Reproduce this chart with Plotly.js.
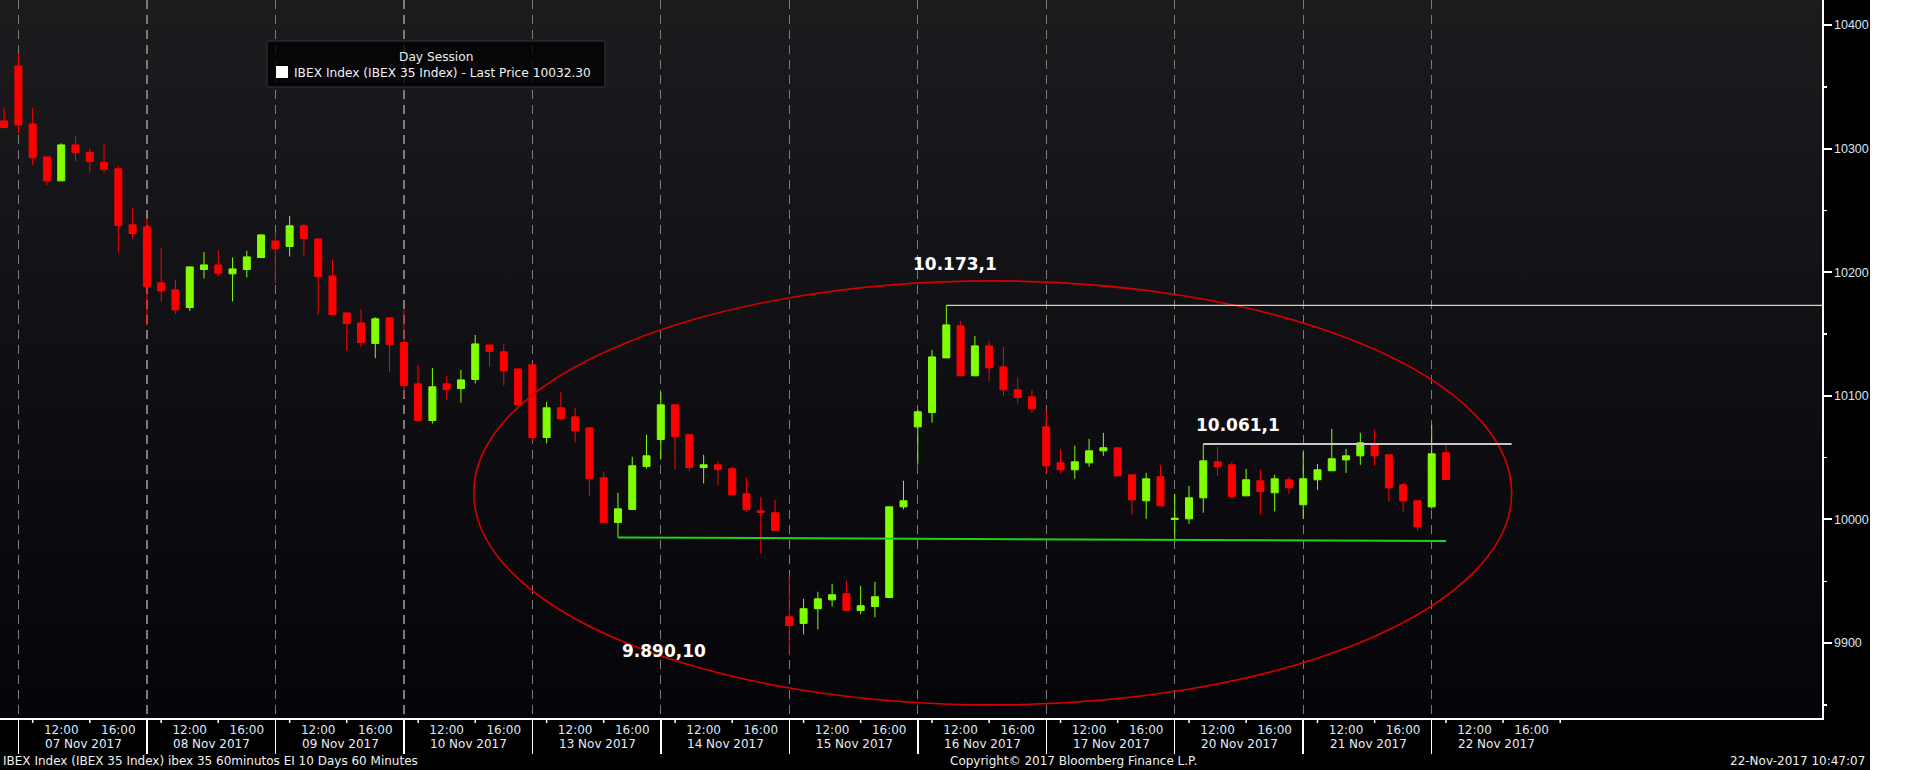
<!DOCTYPE html>
<html><head><meta charset="utf-8">
<script src="https://cdn.plot.ly/plotly-3.0.1.min.js"></script>
<style>
html,body{margin:0;padding:0;background:#ffffff;overflow:hidden;}
#wrap{position:absolute;left:0;top:0;width:1870px;height:770px;background:#000;}
#bg{position:absolute;left:0;top:0;width:1822px;height:718px;background:linear-gradient(to bottom,#1c1c1f 0%,#111115 45%,#050509 100%);}
#chart{position:absolute;left:0;top:0;width:1870px;height:770px;}
</style></head><body>
<div id="wrap"><div id="bg"></div><div id="chart"></div></div>
<script>
// ---- data (60-minute bars, 9 bars per session 09:00..17:00; first bar = 06 Nov 17:00) ----
const sessionDays = ['07 Nov 2017','08 Nov 2017','09 Nov 2017','10 Nov 2017','13 Nov 2017','14 Nov 2017',
                     '15 Nov 2017','16 Nov 2017','17 Nov 2017','20 Nov 2017','21 Nov 2017','22 Nov 2017'];
const timeLabels = ['12:00','16:00'];
const openP = [10322.4,
 10366.8,10319.9,10293.3,10273.9,10303.0,10297.0,10288.9,10283.6,10238.3,
 10236.7,10191.4,10185.7,10171.4,10202.2,10205.9,10198.7,10202.2,10211.9,
 10225.3,10220.8,10237.5,10226.9,10197.0,10167.1,10159.0,10142.3,10163.1,
 10143.1,10109.7,10080.0,10109.7,10105.9,10113.2,10141.2,10135.6,10121.8,
 10125.1,10066.3,10090.3,10083.0,10074.1,10033.7,9997.6,10008.1,10042.9,
 10064.7,10092.7,10068.5,10042.0,10044.2,10041.0,10020.8,10007.0,10005.4,
 9921.3,9915.9,9927.8,9935.0,9939.9,9926.4,9929.6,9936.9,10010.2,
 10074.9,10086.5,10130.7,10156.6,10116.2,10140.4,10123.4,10104.9,10099.2,
 10074.9,10045.8,10040.2,10045.8,10055.5,10058.0,10036.1,10015.1,10034.5,
 10000.0,10000.5,10017.5,10046.6,10044.2,10019.1,10031.3,10021.6,10032.1,
 10011.9,10032.1,10039.4,10048.2,10051.5,10061.5,10052.3,10028.0,10015.1,
 10010.2,10053.9];
const highP = [10332.6,
 10377.1,10332.6,10293.3,10304.3,10310.2,10300.3,10303.8,10286.0,10251.8,
 10243.7,10219.7,10193.8,10204.3,10216.4,10218.1,10211.9,10217.3,10230.2,
 10232.3,10245.6,10239.1,10226.9,10210.0,10167.1,10170.1,10163.6,10163.1,
 10169.5,10125.1,10122.6,10116.2,10121.0,10149.3,10141.2,10142.0,10121.8,
 10125.1,10095.1,10103.2,10090.3,10074.1,10038.5,10021.6,10050.7,10068.5,
 10103.2,10092.7,10069.3,10052.3,10047.4,10042.6,10033.7,10018.3,10015.9,
 9954.4,9935.8,9941.5,9948.0,9950.4,9946.4,9949.6,10010.2,10031.3,
 10088.7,10137.2,10173.1,10160.6,10148.5,10144.5,10139.6,10114.6,10104.9,
 10088.7,10057.1,10059.6,10065.2,10070.1,10058.0,10036.1,10037.7,10044.2,
 10020.8,10027.2,10061.1,10058.8,10046.6,10041.0,10040.2,10036.1,10034.5,
 10054.7,10045.0,10073.3,10057.1,10070.1,10072.5,10052.3,10029.6,10015.1,
 10076.5,10061.2];
const lowP = [10316.5,
 10312.4,10286.8,10270.6,10273.9,10290.0,10280.6,10280.6,10215.9,10227.2,
 10156.6,10176.3,10166.3,10168.7,10194.9,10196.5,10176.3,10195.7,10211.9,
 10190.8,10212.7,10213.5,10165.8,10165.0,10136.7,10139.4,10130.5,10119.1,
 10098.9,10079.2,10077.6,10097.0,10094.6,10110.0,10123.7,10108.1,10092.7,
 10063.1,10061.5,10080.0,10062.3,10019.4,9997.6,9985.5,10008.1,10041.2,
 10048.5,10040.4,10038.8,10029.1,10027.5,10020.2,10005.7,9972.5,9991.1,
 9890.1,9907.0,9911.0,9929.6,9926.4,9923.2,9920.8,9936.9,10008.1,
 10044.5,10078.4,10130.7,10116.2,10116.2,10112.1,10100.0,10093.8,10086.3,
 10037.2,10037.2,10032.9,10042.6,10051.5,10035.3,10003.8,10000.5,10011.0,
 9983.0,9996.5,10005.4,10035.3,10017.5,10019.1,10003.8,10006.5,10020.8,
 10000.5,10024.0,10039.4,10037.7,10044.2,10043.4,10014.3,10006.2,9990.8,
 10008.6,10032.3];
const closeP = [10317.0,
 10319.1,10292.7,10273.9,10303.0,10296.8,10289.5,10283.3,10237.7,10231.3,
 10188.4,10184.9,10169.5,10204.3,10205.9,10199.2,10202.7,10212.4,10230.2,
 10218.9,10237.5,10227.2,10196.5,10165.8,10158.5,10143.1,10162.3,10141.5,
 10108.4,10080.0,10107.3,10105.1,10112.9,10142.0,10135.8,10120.5,10092.7,
 10066.3,10090.3,10081.4,10071.7,10033.2,9997.6,10008.6,10043.4,10051.5,
 10092.7,10067.1,10042.0,10044.2,10040.4,10020.2,10008.1,10005.7,9991.1,
 9914.3,9927.8,9935.8,9939.1,9926.4,9930.2,9937.5,10010.2,10015.1,
 10087.1,10131.5,10157.4,10116.2,10140.4,10122.6,10104.9,10098.7,10089.5,
 10043.4,10040.2,10046.6,10055.5,10058.0,10035.3,10015.9,10032.9,10011.0,
 10001.0,10017.5,10047.4,10042.6,10018.6,10032.1,10022.6,10032.9,10025.6,
 10032.9,10040.2,10049.1,10051.5,10062.0,10051.5,10025.6,10015.1,9994.1,
 10053.1,10032.3];
// annotated levels (bar indexes refer to positions in the arrays above)
const levelHigh = 10173.1, levelHighBar = 66;
const levelMid = 10061.1, levelMidBar = 84;
const levelLow = 9890.1;
const supportStart = 9985.5, supportEnd = 9982.5, supportStartBar = 43, supportEndBar = 101;

// ---- layout helpers ----
const barsPerSession = 9, firstSlot = -1;
const slots = openP.map((_, i) => i + firstSlot);
const W = 1822, H = 718;
const px = x => x / W, py = y => 1 - y / H;
const xMin = -1.289, xMax = 126.34, yMin = 9839.4, yMax = 10420.2;

const tickvals = [], ticktext = [], dayStarts = [], smallTicks = [];
sessionDays.forEach((d, i) => {
  const s = i * barsPerSession;
  dayStarts.push(s);
  tickvals.push(s + 3, s + 7); ticktext.push(timeLabels[0], timeLabels[1]);
  smallTicks.push(s + 1, s + 5);
});
smallTicks.push(sessionDays.length * barsPerSession);

const FONT = "'DejaVu Sans', 'Liberation Sans', sans-serif";
const tickFont = {family: FONT, size: 12, color: '#dde8f7'};
const yTickFont = {family: "'Liberation Sans', 'DejaVu Sans', sans-serif", size: 12.5, color: '#d6e4f6'};

const shapes = [];
smallTicks.forEach(s => shapes.push({type:'line', xref:'x', yref:'paper', ysizemode:'pixel', yanchor:0,
  x0:s, x1:s, y0:-1, y1:-5, line:{color:'#ffffff', width:1.5}}));
// ellipse
shapes.push({type:'circle', xref:'x', yref:'y', x0:31.9, x1:104.6, y0:9850, y1:10193,
  line:{color:'#d40000', width:1.6}});
// resistance line
shapes.push({type:'line', xref:'x', yref:'y', x0:slots[levelHighBar], x1:xMax, y0:levelHigh, y1:levelHigh,
  line:{color:'#d6d6ad', width:1.3}});
// 10061 line
shapes.push({type:'line', xref:'x', yref:'y', x0:slots[levelMidBar], x1:104.6, y0:levelMid, y1:levelMid,
  line:{color:'#c8c8c8', width:2}});
// support line
shapes.push({type:'line', xref:'x', yref:'y', x0:slots[supportStartBar], x1:slots[supportEndBar], y0:supportStart, y1:supportEnd,
  line:{color:'#1fd21f', width:2}});
// legend box
shapes.push({type:'rect', xref:'paper', yref:'paper', x0:px(267), x1:px(605), y0:py(87), y1:py(41),
  fillcolor:'rgba(2,2,4,0.82)', line:{color:'#353539', width:1}});
shapes.push({type:'rect', xref:'paper', yref:'paper', x0:px(276), x1:px(288), y0:py(78), y1:py(66),
  fillcolor:'#ffffff', line:{width:0}});

const fmt = v => { const s = v.toFixed(1).split('.'); return s[0].replace(/\B(?=(\d{3})+(?!\d))/g,'.') + ',' + s[1]; };
const bold = {family:"'DejaVu Sans', sans-serif", size:17, color:'#ffffff', weight:'bold'};
const smallFont = {family:FONT, size:12, color:'#f0f0f0'};
const annotations = [
  {xref:'paper', yref:'paper', x:px(955), y:py(264), text:fmt(levelHigh), showarrow:false, font:bold, xanchor:'center', yanchor:'middle'},
  {xref:'paper', yref:'paper', x:px(1238), y:py(425), text:fmt(levelMid), showarrow:false, font:bold, xanchor:'center', yanchor:'middle'},
  {xref:'paper', yref:'paper', x:px(664), y:py(651), text:fmt(levelLow).replace(/,(\d)$/, ',$10'), showarrow:false, font:bold, xanchor:'center', yanchor:'middle'},
  {xref:'paper', yref:'paper', x:px(436), y:py(57), text:'Day Session', showarrow:false,
   font:{family:FONT, size:12.2, color:'#ececec'}, xanchor:'center', yanchor:'middle'},
  {xref:'paper', yref:'paper', x:px(292), y:py(72.5), text:'IBEX Index (IBEX 35 Index) - Last Price ' + closeP[closeP.length-1].toFixed(2), showarrow:false,
   font:{family:FONT, size:12.2, color:'#f2f2f2'}, xanchor:'left', yanchor:'middle'},
  {xref:'paper', yref:'paper', x:px(1), y:py(761), text:'IBEX Index (IBEX 35 Index) ibex 35 60minutos EI 10 Days 60 Minutes', showarrow:false,
   font:smallFont, xanchor:'left', yanchor:'middle'},
  {xref:'paper', yref:'paper', x:px(1073), y:py(761), text:'Copyright\u00a9 2017 Bloomberg Finance L.P.', showarrow:false,
   font:smallFont, xanchor:'center', yanchor:'middle'},
  {xref:'paper', yref:'paper', x:px(1867), y:py(761), text:'22-Nov-2017 10:47:07', showarrow:false,
   font:smallFont, xanchor:'right', yanchor:'middle'}
];
sessionDays.forEach((d, i) => annotations.push({xref:'x', yref:'paper', x:i*barsPerSession + 4.55, y:py(744),
  text:d, showarrow:false, font:{family:FONT, size:12, color:'#e6eefa'}, xanchor:'center', yanchor:'middle'}));

const trace = {
  type:'candlestick', x:slots, open:openP, high:highP, low:lowP, close:closeP,
  increasing:{line:{color:'#80ff00', width:1}, fillcolor:'#80ff00'},
  decreasing:{line:{color:'#ff0000', width:1}, fillcolor:'#ff0000'},
  whiskerwidth:0, hoverinfo:'skip', showlegend:false
};

const layout = {
  width:1870, height:770, autosize:false,
  margin:{l:0, r:48, t:0, b:52, pad:0},
  paper_bgcolor:'rgba(0,0,0,0)', plot_bgcolor:'rgba(0,0,0,0)',
  showlegend:false,
  xaxis:{range:[xMin, xMax], type:'linear', fixedrange:true, rangeslider:{visible:false},
    tickmode:'array', tickvals:tickvals, ticktext:ticktext, ticks:'', tickfont:tickFont,
    showgrid:false, zeroline:false, showline:true, linecolor:'#ffffff', linewidth:1.5,
    minor:{tickmode:'array', tickvals:dayStarts, ticks:'outside', ticklen:34, tickwidth:1.5, tickcolor:'#ffffff',
      showgrid:true, gridcolor:'#7b7b7b', gridwidth:1.3, griddash:'9px,6px'}},
  yaxis:{range:[yMin, yMax], side:'right', fixedrange:true, tick0:0, dtick:100, tickmode:'linear',
    tickformat:'d', separatethousands:false, exponentformat:'none',
    ticks:'outside', ticklen:8, tickwidth:2, tickcolor:'#ffffff', tickfont:yTickFont,
    showgrid:false, zeroline:false, showline:true, linecolor:'#ffffff', linewidth:1.5,
    minor:{dtick:50, tick0:0, ticks:'outside', ticklen:3, tickwidth:1.5, tickcolor:'#ffffff', showgrid:false}},
  shapes:shapes, annotations:annotations
};
Plotly.newPlot('chart', [trace], layout, {staticPlot:true, displayModeBar:false});
</script>
</body></html>
